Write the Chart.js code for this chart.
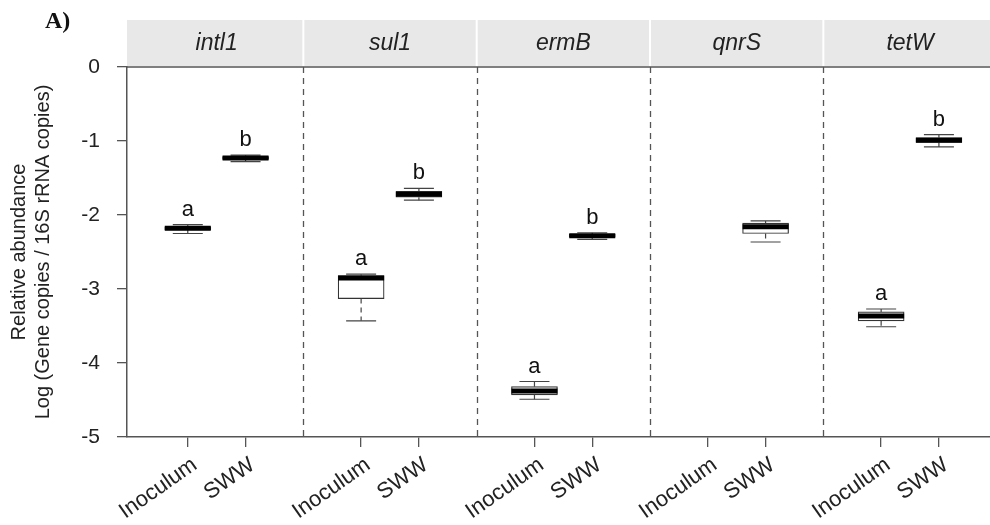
<!DOCTYPE html>
<html>
<head>
<meta charset="utf-8">
<script src="https://cdn.jsdelivr.net/npm/chart.js@4.4.1/dist/chart.umd.min.js"></script>
<style>
  html, body { margin: 0; padding: 0; background: #fff; }
  #wrap { width: 990px; height: 525px; position: relative; }
</style>
</head>
<body>
<div id="wrap"><canvas id="myChartBoxes"></canvas></div>
<script>
// genes (panels) and groups inside each panel
const genes = ['intl1', 'sul1', 'ermB', 'qnrS', 'tetW'];
const groups = ['Inoculum', 'SWW'];

// box statistics per gene: [Inoculum, SWW]  (null = no data)
const whiskerLow  = [[-2.25, -1.28], [-3.43, -1.80], [-4.49, -2.33], [null, -2.365], [-3.51, -1.08]];
const q1          = [[-2.20, -1.25], [-3.13, -1.76], [-4.43, -2.30], [null, -2.25],  [-3.43, -1.02]];
const median      = [[-2.18, -1.23], [-2.85, -1.72], [-4.38, -2.28], [null, -2.16],  [-3.365, -0.99]];
const q3          = [[-2.16, -1.21], [-2.82, -1.68], [-4.32, -2.26], [null, -2.11],  [-3.31, -0.955]];
const whiskerHigh = [[-2.13, -1.19], [-2.80, -1.64], [-4.25, -2.24], [null, -2.08],  [-3.27, -0.915]];
const letters     = [['a', 'b'], ['a', 'b'], ['a', 'b'], ['', ''], ['a', 'b']];

const yTicks = [0, -1, -2, -3, -4, -5];
const yTitle = ['Relative abundance', 'Log (Gene copies / 16S rRNA copies)'];

const FONT = 'Liberation Sans, Arial, sans-serif';
const AXIS = '#555';

// x position of a box: panel g occupies [3g, 3g+3]
function xPos(g, k) { return g * 3 + 1 + k; }

let tickPos = [];
let tickLab = [];
let boxes = [];
genes.forEach((gene, g) => {
  groups.forEach((grp, k) => {
    tickPos.push(xPos(g, k));
    tickLab.push(grp);
    if (q1[g][k] !== null) boxes.push({ x: xPos(g, k), y: [q1[g][k], q3[g][k]] });
  });
});

const boxPlugin = {
  id: 'boxPlugin',
  beforeDraw(chart) {
    const ctx = chart.ctx;
    const x = chart.scales.x;
    const area = chart.chartArea;
    // strip header
    ctx.save();
    ctx.fillStyle = '#e8e8e8';
    ctx.fillRect(area.left, 20, area.right - area.left, area.top - 21);
    ctx.fillStyle = '#fff';
    for (let g = 1; g < genes.length; g++) {
      const px = x.getPixelForValue(g * 3);
      ctx.fillRect(px - 1, 20, 2, area.top - 21);
    }
    ctx.fillStyle = '#222';
    ctx.font = 'italic 23px ' + FONT;
    ctx.textAlign = 'center';
    ctx.textBaseline = 'middle';
    genes.forEach((gene, g) => {
      ctx.fillText(gene, x.getPixelForValue(g * 3 + 1.5), 44);
    });
    // panel label
    ctx.fillStyle = '#111';
    ctx.font = 'bold 24px "Liberation Serif", "Times New Roman", serif';
    ctx.textAlign = 'left';
    ctx.fillText('A)', 45, 22);
    ctx.restore();
  },
  beforeDatasetsDraw(chart) {
    const ctx = chart.ctx;
    const x = chart.scales.x;
    const area = chart.chartArea;
    ctx.save();
    ctx.strokeStyle = AXIS;
    ctx.lineWidth = 1.3;
    ctx.setLineDash([6, 5]);
    for (let g = 1; g < genes.length; g++) {
      const px = Math.round(x.getPixelForValue(g * 3)) + 0.5;
      ctx.beginPath();
      ctx.moveTo(px, area.top);
      ctx.lineTo(px, area.bottom);
      ctx.stroke();
    }
    ctx.setLineDash([]);
    ctx.lineWidth = 1.5;
    ctx.beginPath();
    ctx.moveTo(area.left, area.top);
    ctx.lineTo(area.right, area.top);
    ctx.stroke();
    ctx.restore();
  },
  afterDatasetsDraw(chart) {
    const ctx = chart.ctx;
    const x = chart.scales.x;
    const y = chart.scales.y;
    ctx.save();
    genes.forEach((gene, g) => {
      groups.forEach((grp, k) => {
        if (median[g][k] === null) return;
        const cx = x.getPixelForValue(xPos(g, k));
        const yLo = y.getPixelForValue(whiskerLow[g][k]);
        const yQ1 = y.getPixelForValue(q1[g][k]);
        const yMed = y.getPixelForValue(median[g][k]);
        const yQ3 = y.getPixelForValue(q3[g][k]);
        const yHi = y.getPixelForValue(whiskerHigh[g][k]);
        // whiskers
        ctx.strokeStyle = '#444';
        ctx.lineWidth = 1.2;
        ctx.setLineDash([5, 4]);
        ctx.beginPath();
        ctx.moveTo(cx, yQ3); ctx.lineTo(cx, yHi);
        ctx.moveTo(cx, yQ1); ctx.lineTo(cx, yLo);
        ctx.stroke();
        ctx.setLineDash([]);
        ctx.beginPath();
        ctx.moveTo(cx - 15, yHi); ctx.lineTo(cx + 15, yHi);
        ctx.moveTo(cx - 15, yLo); ctx.lineTo(cx + 15, yLo);
        ctx.stroke();
        // median
        ctx.strokeStyle = '#000';
        ctx.lineWidth = 5;
        ctx.beginPath();
        ctx.moveTo(cx - 23, yMed); ctx.lineTo(cx + 23, yMed);
        ctx.stroke();
        // significance letters
        if (letters[g][k]) {
          ctx.fillStyle = '#111';
          ctx.font = '22px ' + FONT;
          ctx.textAlign = 'center';
          ctx.textBaseline = 'middle';
          ctx.fillText(letters[g][k], cx, yHi - 15);
        }
      });
    });
    ctx.restore();
  }
};

let ctx = document.getElementById('myChartBoxes').getContext('2d');
Chart.defaults.font.family = FONT;
Chart.defaults.color = '#222';

let myChart = new Chart(ctx, {
  type: 'bar',
  data: {
    datasets: [{
      label: 'boxes',
      data: boxes,
      backgroundColor: '#fff',
      borderColor: '#333',
      borderWidth: 1.2,
      borderSkipped: false,
      barThickness: 46
    }]
  },
  plugins: [boxPlugin],
  options: {
    responsive: true,
    maintainAspectRatio: false,
    animation: false,
    layout: { padding: { top: 67, right: 0, left: 0, bottom: 0 } },
    plugins: { legend: { display: false }, tooltip: { enabled: false } },
    scales: {
      x: {
        type: 'linear',
        offset: false,
        min: -0.052,
        max: 14.884,
        grid: { drawOnChartArea: false, offset: false, tickLength: 10, color: AXIS, lineWidth: 1.3 },
        border: { color: AXIS, width: 1.5 },
        afterBuildTicks(scale) { scale.ticks = tickPos.map(v => ({ value: v })); },
        afterFit(scale) { scale.height = 88; },
        ticks: {
          minRotation: 35,
          maxRotation: 35,
          padding: 5,
          labelOffset: 7,
          font: { size: 22 },
          color: '#222',
          callback: function(value) {
            const i = tickPos.indexOf(value);
            return i >= 0 ? tickLab[i] : '';
          }
        }
      },
      y: {
        min: -5,
        max: 0,
        grid: { drawOnChartArea: false, tickLength: 10, color: AXIS, lineWidth: 1.3 },
        border: { color: AXIS, width: 1.5 },
        afterBuildTicks(scale) { scale.ticks = yTicks.map(v => ({ value: v })); },
        afterFit(scale) { scale.width = 127; },
        ticks: { padding: 17, font: { size: 21 }, color: '#222' },
        title: {
          display: true,
          text: yTitle,
          font: { size: 20 },
          color: '#222',
          padding: { top: 7, bottom: 0 }
        }
      }
    }
  }
});
</script>
</body>
</html>
